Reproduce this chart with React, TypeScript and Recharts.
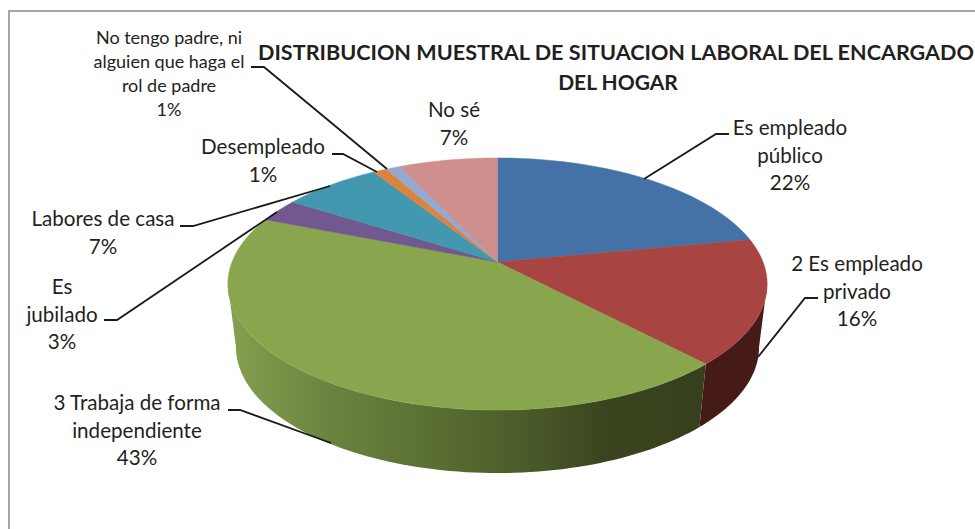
import React from 'react';
import { PieChart, Pie } from 'recharts';

const categories = [
  'Es empleado público',
  '2 Es empleado privado',
  '3 Trabaja de forma independiente',
  'Es jubilado',
  'Labores de casa',
  'Desempleado',
  'No tengo padre, ni alguien que haga el rol de padre',
  'No sé',
];
const percents = [22, 16, 43, 3, 7, 1, 1, 7];
const colors = ['#4472A6', '#A84543', '#89A54E', '#71588F', '#4198AF', '#DB843D', '#93A9CF', '#CF8F8E'];

const titleLines = ['DISTRIBUCION MUESTRAL DE SITUACION LABORAL DEL ENCARGADO', 'DEL HOGAR'];

// wrapped text of each label, same order as categories
const labelLines = [
  ['Es empleado', 'público', '22%'],
  ['2 Es empleado', 'privado', '16%'],
  ['3 Trabaja de forma', 'independiente', '43%'],
  ['Es', 'jubilado', '3%'],
  ['Labores de casa', '7%'],
  ['Desempleado', '1%'],
  ['No tengo padre, ni', 'alguien que haga el', 'rol de padre', '1%'],
  ['No sé', '7%'],
];

// label placement: centre x, first baseline, line step, font size, leader polyline
const labelLayout = [
  { x: 790, y: 135, step: 27.5, size: 20.6, leader: '729,134 716,134 644,179' },
  { x: 857, y: 271, step: 27.5, size: 20.6, leader: '818,298 805,298 758,357' },
  { x: 137, y: 410, step: 27.5, size: 20.6, leader: '228,410 240,410 331,443' },
  { x: 62, y: 294, step: 27.5, size: 20.6, leader: '104,320 117,320 277,212' },
  { x: 103, y: 226, step: 27.5, size: 20.6, leader: '180,226 193,226 330,186' },
  { x: 263, y: 154, step: 27.5, size: 20.6, leader: '332,154 343,154 377,172' },
  { x: 169, y: 44, step: 24, size: 18, leader: '251,67 264,67 387,169' },
  { x: 454, y: 117, step: 28, size: 20.6, leader: '' },
];

const tableData = categories.map((name, i) => ({ name, value: percents[i], fill: colors[i], idx: i }));

const CX = 497.5;
const CY = 262;
const RADIUS = 265.5; // before perspective
const PERSPECTIVE = -0.1746;
const SQUASH = 122.2;
const DEPTH = 63;
const BOTTOM_SCALE = 0.97;

// circle angle (clockwise from 12 o'clock, degrees) -> point on the tilted top face
const rim = (theta: number) => {
  const t = (theta * Math.PI) / 180;
  const v = -Math.cos(t);
  const d = 1 + PERSPECTIVE * v;
  return { x: CX + (RADIUS * Math.sin(t)) / d, y: CY + (SQUASH * v) / d };
};

const sweep = (from: number, to: number) => {
  const out: number[] = [];
  const n = Math.max(2, Math.ceil((to - from) / 1.5));
  for (let i = 0; i <= n; i++) out.push(from + ((to - from) * i) / n);
  return out;
};

const TopFace = (props: any) => {
  const from = 90 - props.startAngle;
  const to = 90 - props.endAngle;
  const pts = sweep(from, to).map(rim);
  const d = `M${CX},${CY} ` + pts.map(p => `L${p.x.toFixed(2)},${p.y.toFixed(2)}`).join(' ') + ' Z';
  return <path d={d} fill={props.fill} stroke={props.fill} strokeWidth={0.5} />;
};

// only the front of the rim is visible, from the right silhouette to the left one
const WallFace = (props: any) => {
  const from = Math.max(90 - props.startAngle, 100);
  const to = Math.min(90 - props.endAngle, 260);
  if (to <= from) return null;
  const top = sweep(from, to).map(rim);
  const bottom = [...top].reverse().map(p => ({ x: CX + (p.x - CX) * BOTTOM_SCALE, y: p.y + DEPTH }));
  const d = 'M' + [...top, ...bottom].map(p => `${p.x.toFixed(2)},${p.y.toFixed(2)}`).join(' L') + ' Z';
  const fill = props.idx === 1 ? '#451A17' : 'url(#greenWall)';
  return <path d={d} fill={fill} />;
};

const renderLabel = (props: any) => {
  const i = props.idx ?? props.index;
  const l = labelLayout[i];
  return (
    <text key={i} textAnchor="middle" fontFamily="Lato" fontSize={l.size} fill="#231F20">
      {labelLines[i].map((line, k) => (
        <tspan key={k} x={l.x} y={l.y + k * l.step}>{line}</tspan>
      ))}
    </text>
  );
};

const renderLeader = (props: any) => {
  const i = props.idx ?? props.index;
  const pts = labelLayout[i].leader;
  if (!pts) return <g key={i} />;
  return <polyline key={i} points={pts} fill="none" stroke="#1A1A1A" strokeWidth={1.8} />;
};

export default function App() {
  return (
    <div style={{ position: 'absolute', left: 0, top: 0, width: 975, height: 529, background: '#fff' }}>
      <PieChart width={975} height={529} margin={{ top: 0, right: 0, bottom: 0, left: 0 }}>
        <defs>
          <linearGradient id="greenWall" gradientUnits="userSpaceOnUse" x1={230} y1={0} x2={710} y2={0}>
            <stop offset="0%" stopColor="#84A04F" />
            <stop offset="20%" stopColor="#6C843F" />
            <stop offset="45%" stopColor="#586C31" />
            <stop offset="60%" stopColor="#4C5C2A" />
            <stop offset="78%" stopColor="#3A451F" />
            <stop offset="100%" stopColor="#363F1C" />
          </linearGradient>
        </defs>
        <path d="M9,529 L9,11 L975,11" fill="none" stroke="#A6A6A6" strokeWidth={2} />
        <Pie
          data={tableData}
          dataKey="value"
          cx={CX}
          cy={CY}
          outerRadius={RADIUS}
          startAngle={90}
          endAngle={-270}
          stroke="none"
          shape={WallFace}
          label={false}
          labelLine={false}
          isAnimationActive={false}
        />
        <Pie
          data={tableData}
          dataKey="value"
          cx={CX}
          cy={CY}
          outerRadius={RADIUS}
          startAngle={90}
          endAngle={-270}
          stroke="none"
          shape={TopFace}
          label={renderLabel}
          labelLine={renderLeader}
          isAnimationActive={false}
        />
        <text textAnchor="middle" fontFamily="Lato" fontWeight={700} fontSize={21} fill="#231F20">
          <tspan x={616} y={59.5} textLength={716} lengthAdjust="spacingAndGlyphs">{titleLines[0]}</tspan>
          <tspan x={618} y={90}>{titleLines[1]}</tspan>
        </text>
      </PieChart>
    </div>
  );
}
